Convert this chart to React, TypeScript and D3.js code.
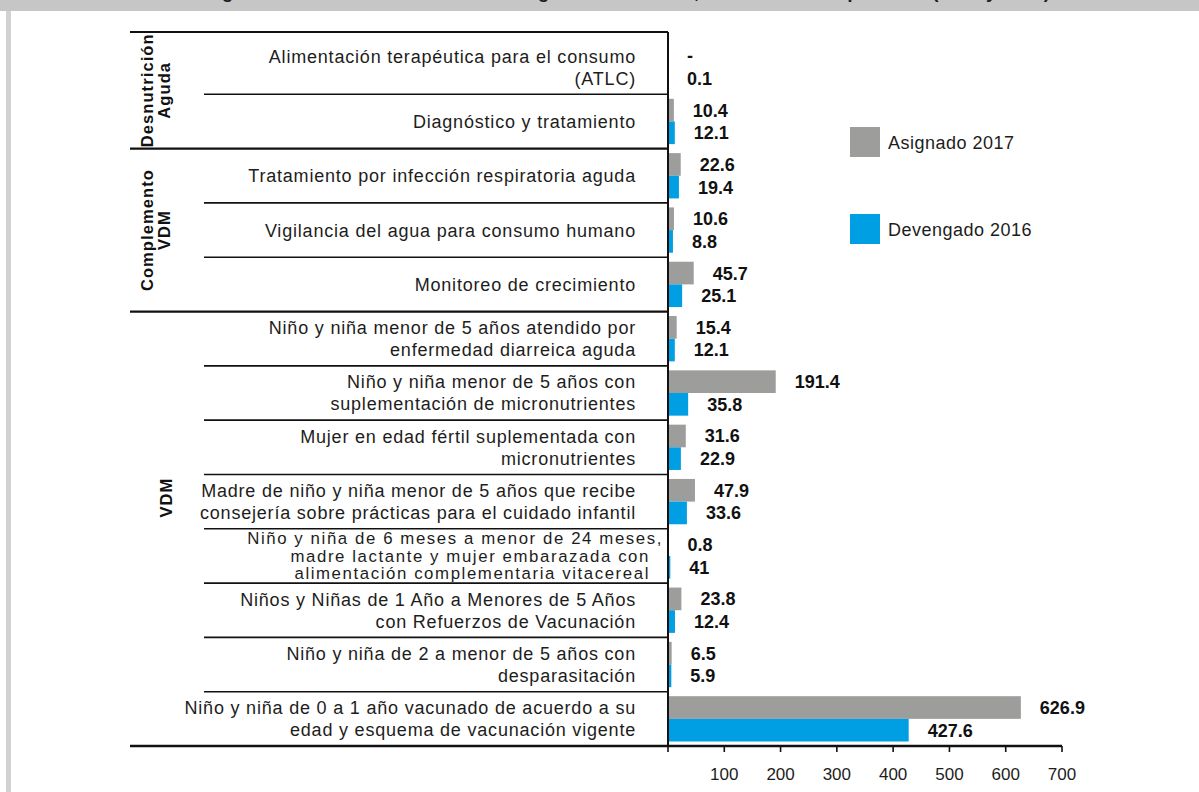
import React from "react";
import * as d3 from "d3";

// categories (label lines), top to bottom
const categories: string[][] = [
  ["Alimentación terapéutica para el consumo", "(ATLC)"],
  ["Diagnóstico y tratamiento"],
  ["Tratamiento por infección respiratoria aguda"],
  ["Vigilancia del agua para consumo humano"],
  ["Monitoreo de crecimiento"],
  ["Niño y niña menor de 5 años atendido por", "enfermedad diarreica aguda"],
  ["Niño y niña menor de 5 años con", "suplementación de micronutrientes"],
  ["Mujer en edad fértil suplementada con", "micronutrientes"],
  ["Madre de niño y niña menor de 5 años que recibe", "consejería sobre prácticas para el cuidado infantil"],
  ["Niño y niña de 6 meses a menor de 24 meses,", "madre lactante y mujer embarazada con", "alimentación complementaria vitacereal"],
  ["Niños y Niñas de 1 Año a Menores de 5 Años", "con Refuerzos de Vacunación"],
  ["Niño y niña de 2 a menor de 5 años con", "desparasitación"],
  ["Niño y niña de 0 a 1 año vacunado de acuerdo a su", "edad y esquema de vacunación vigente"],
];

const asignado2017 = [0, 10.4, 22.6, 10.6, 45.7, 15.4, 191.4, 31.6, 47.9, 0.8, 23.8, 6.5, 626.9];
const asignadoLabels = ["-", "10.4", "22.6", "10.6", "45.7", "15.4", "191.4", "31.6", "47.9", "0.8", "23.8", "6.5", "626.9"];
const devengado2016 = [0.1, 12.1, 19.4, 8.8, 25.1, 12.1, 35.8, 22.9, 33.6, 4.1, 12.4, 5.9, 427.6];
const devengadoLabels = ["0.1", "12.1", "19.4", "8.8", "25.1", "12.1", "35.8", "22.9", "33.6", "41", "12.4", "5.9", "427.6"];

// groups: label lines, first row, last row
const groups = [
  { lines: ["Desnutrición", "Aguda"], from: 0, to: 1 },
  { lines: ["Complemento", "VDM"], from: 2, to: 4 },
  { lines: ["VDM"], from: 5, to: 12 },
];

const xTicks = [0, 100, 200, 300, 400, 500, 600, 700];
const seriesNames = ["Asignado 2017", "Devengado 2016"];

const GRAY = "#9d9d9c";
const BLUE = "#009fe3";
const FONT = "'Liberation Sans', Arial, Helvetica, sans-serif";

export default function App() {
  const width = 1199;
  const height = 792;
  const axisX = 668;
  const axisY = 746;
  const leftX = 130;
  const innerLeft = 204;

  const x = d3.scaleLinear().domain([0, 700]).range([axisX, 1062]);
  const y = d3.scaleBand<number>().domain(d3.range(categories.length)).range([40, axisY]);
  const bw = y.bandwidth();
  const sub = d3.scaleBand<string>().domain(["a", "d"]).range([4.5, bw - 4.5]);

  const groupStarts = new Set(groups.map(g => g.from));

  return (
    <svg width={width} height={height} style={{ position: "absolute", left: 0, top: 0, background: "#fff" }} fontFamily={FONT}>
      {/* frame */}
      <rect x={0} y={0} width={width} height={11} fill="#c6c6c6" />
      <text x={205} y={-2.5} fontSize={18} fontWeight="bold" fill="#1d1d1b" textLength={845} lengthAdjust="spacingAndGlyphs">
        Figura 4. Intervenciones de la estrategia VDM en salud, en millones de quetzales (2016 y 2017)
      </text>
      <rect x={6} y={11} width={5} height={height - 11} fill="#d2d2d2" />

      {/* bars */}
      {asignado2017.map((v, i) => (
        <rect key={"a" + i} x={x(0)} y={y(i)! + sub("a")!} width={x(v) - x(0)} height={sub.bandwidth()} fill={GRAY} />
      ))}
      {devengado2016.map((v, i) => (
        <rect key={"d" + i} x={x(0)} y={y(i)! + sub("d")!} width={x(v) - x(0)} height={sub.bandwidth()} fill={BLUE} />
      ))}

      {/* value labels */}
      {asignado2017.map((v, i) => (
        <text key={"al" + i} x={x(v) + 19} y={y(i)! + sub("a")! + sub.bandwidth() / 2} dy="0.36em" fontSize={18} fontWeight="bold" fill="#111">
          {asignadoLabels[i]}
        </text>
      ))}
      {devengado2016.map((v, i) => (
        <text key={"dl" + i} x={x(v) + 19} y={y(i)! + sub("d")! + sub.bandwidth() / 2} dy="0.36em" fontSize={18} fontWeight="bold" fill="#111">
          {devengadoLabels[i]}
        </text>
      ))}

      {/* row separators */}
      {categories.map((_, i) => i === 0 ? null : (
        <line key={"sep" + i} x1={groupStarts.has(i) ? leftX : innerLeft} x2={axisX} y1={y(i)!} y2={y(i)!}
          stroke="#111" strokeWidth={groupStarts.has(i) ? 2.2 : 1.6} />
      ))}
      <line x1={leftX} x2={axisX} y1={32} y2={32} stroke="#111" strokeWidth={2.2} />

      {/* category labels */}
      {categories.map((lines, i) => {
        const three = lines.length > 2;
        const lh = three ? 17.5 : 22;
        const cy = y(i)! + bw / 2;
        return (
          <text key={"c" + i} x={636} textAnchor="end" fontSize={three ? 16.8 : 18} letterSpacing={three ? 1.6 : 0.8} fill="#1d1d1b">
            {lines.map((t, k) => (
              <tspan key={k} x={three && k === 0 ? 663 : three ? 650 : 636} y={cy + (k - (lines.length - 1) / 2) * lh} dy="0.36em">{t}</tspan>
            ))}
          </text>
        );
      })}

      {/* group labels */}
      {groups.map((g, gi) => {
        const top = g.lines.length === 1 ? y(g.from)! : (gi === 0 ? 32 : y(g.from)!);
        const bottom = g.lines.length === 1 ? y(g.to - 1)! + bw : y(g.to)! + bw;
        const cy = (top + bottom) / 2 - (g.lines.length === 1 ? 4 : 0);
        const cx = g.lines.length === 1 ? 166 : 156;
        return (
          <text key={"g" + gi} transform={`translate(${cx},${cy}) rotate(-90)`} textAnchor="middle" fontSize={16.5} fontWeight="bold" letterSpacing={1.1} fill="#111">
            {g.lines.map((t, k) => (
              <tspan key={k} x={0} y={(k - (g.lines.length - 1) / 2) * 17} dy="0.36em">{t}</tspan>
            ))}
          </text>
        );
      })}

      {/* axes */}
      <line x1={axisX} x2={axisX} y1={32} y2={axisY} stroke="#111" strokeWidth={2} />
      <line x1={leftX} x2={x(700)} y1={axisY} y2={axisY} stroke="#111" strokeWidth={2.6} />
      {xTicks.map(t => (
        <g key={"t" + t}>
          <line x1={x(t)} x2={x(t)} y1={axisY} y2={axisY + 6} stroke="#111" strokeWidth={1.6} />
          {t > 0 && (
            <text x={x(t)} y={774} dy="0.36em" textAnchor="middle" fontSize={17} fill="#1d1d1b">{t}</text>
          )}
        </g>
      ))}

      {/* legend */}
      {seriesNames.map((name, i) => (
        <g key={name} transform={`translate(850,${127 + i * 87})`}>
          <rect width={30} height={30} fill={i === 0 ? GRAY : BLUE} />
          <text x={38} y={16} dy="0.36em" fontSize={18} letterSpacing={0.5} fill="#1d1d1b">{name}</text>
        </g>
      ))}
    </svg>
  );
}
